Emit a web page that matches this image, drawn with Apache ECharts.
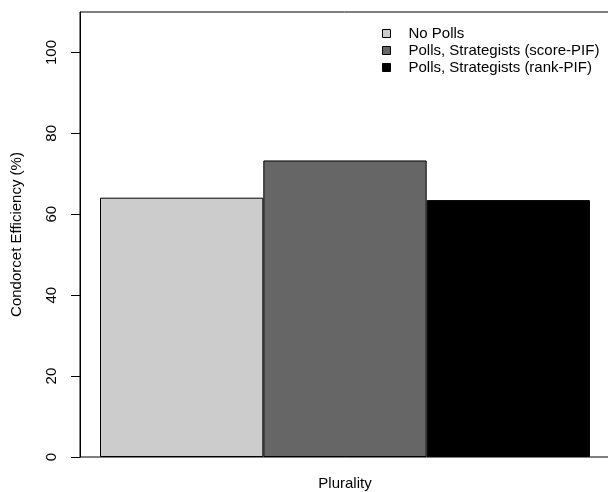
<!DOCTYPE html>
<html>
<head>
<meta charset="utf-8">
<script src="https://cdn.jsdelivr.net/npm/echarts@6/dist/echarts.min.js"></script>
<style>html,body{margin:0;padding:0;background:#fff;}#c{width:608px;height:492px;}</style>
</head>
<body>
<div id="c"></div>
<script>
var categories = ['Plurality'];
var seriesNames = ['No Polls', 'Polls, Strategists (score-PIF)', 'Polls, Strategists (rank-PIF)'];
var noPolls = [64.1];
var scorePIF = [73.3];
var rankPIF = [63.5];
var yTicks = [0, 20, 40, 60, 80, 100];
var colors = ['#CCCCCC', '#666666', '#000000'];

var font = 'Liberation Sans, Arial, Helvetica, sans-serif';
var chart = echarts.init(document.getElementById('c'), null, {renderer: 'canvas'});
var values = [noPolls, scorePIF, rankPIF];
var series = seriesNames.map(function (n, i) {
  return {
    name: n,
    type: 'bar',
    data: values[i],
    barGap: '0%',
    barCategoryGap: '7.55%',
    itemStyle: {color: colors[i], borderColor: '#000', borderWidth: 1},
    emphasis: {disabled: true},
    animation: false
  };
});
chart.setOption({
  animation: false,
  textStyle: {fontFamily: font, color: '#000'},
  grid: {left: 80, width: 530, top: 12, bottom: 35, show: true, borderColor: '#000', borderWidth: 1, containLabel: false, outerBoundsMode: 'none'},
  legend: {
    orient: 'vertical', left: 377, top: 21,
    itemWidth: 8, itemHeight: 8, itemGap: 2,
    icon: 'rect',
    data: seriesNames,
    itemStyle: {borderColor: '#000', borderWidth: 1},
    textStyle: {fontFamily: font, fontSize: 15, color: '#000', padding: [0, 0, 0, 13]},
    selectedMode: false
  },
  xAxis: {
    type: 'category',
    data: categories,
    axisLine: {show: false},
    axisTick: {show: false},
    axisLabel: {fontFamily: font, fontSize: 15, color: '#000', margin: 19},
    splitLine: {show: false}
  },
  yAxis: {
    type: 'value',
    min: 0, max: 110, interval: 20,
    name: 'Condorcet Efficiency (%)',
    nameLocation: 'middle',
    nameRotate: 90,
    nameGap: 56,
    nameTextStyle: {fontFamily: font, fontSize: 15, color: '#000'},
    axisLine: {show: true, lineStyle: {color: '#000', width: 1}},
    axisTick: {show: true, length: 9, lineStyle: {color: '#000'}, customValues: yTicks},
    axisLabel: {fontFamily: font, fontSize: 15, color: '#000', rotate: 90, margin: 21, customValues: yTicks},
    splitLine: {show: false}
  },
  series: series
});
</script>
</body>
</html>
